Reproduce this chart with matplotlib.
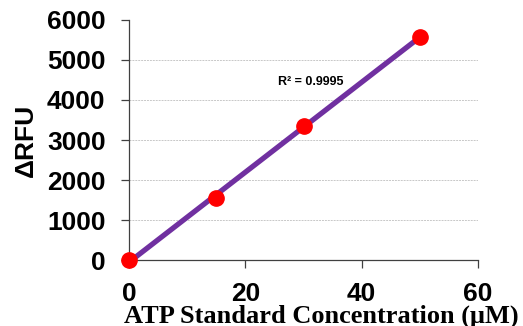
import numpy as np
import matplotlib.pyplot as plt

conc = [0, 15, 30, 50]
rfu = [0, 1550, 3355, 5575]
r2_text = 'R² = 0.9995'

fig = plt.figure(figsize=(5.23, 3.26), dpi=100)
ax = fig.add_axes([0.247, 0.202, 0.667, 0.737])

# linear trendline
slope, icpt = np.polyfit(conc, rfu, 1)
xs = np.array([min(conc), max(conc)])
ax.plot(xs, slope * xs + icpt, color='#7030A0', linewidth=3.8, zorder=2, solid_capstyle='butt')
ax.plot(conc, rfu, 'o', color='#FF0000', markersize=11, zorder=3, clip_on=False)

ax.set_xlim(0, 60); ax.set_ylim(0, 6000)
ax.set_xticks([0, 20, 40, 60]); ax.set_yticks(range(0, 6001, 1000))
for y in range(1000, 6000, 1000):
    ax.axhline(y, color='#c8c8c8', linewidth=0.7, linestyle=(0, (2, 1)), zorder=1)

for s in ['top', 'right']:
    ax.spines[s].set_visible(False)
for s in ['left', 'bottom']:
    ax.spines[s].set_color('#404040'); ax.spines[s].set_linewidth(0.9)
ax.tick_params(direction='out', length=6, width=0.9, color='#404040')
ax.tick_params(axis='x', pad=10); ax.tick_params(axis='y', pad=11)
for lbl in ax.get_xticklabels() + ax.get_yticklabels():
    lbl.set_fontfamily('Liberation Sans'); lbl.set_fontweight('bold'); lbl.set_fontsize(19)

ax.set_ylabel('ΔRFU', fontfamily='Liberation Sans', fontweight='bold', fontsize=19)
ax.yaxis.set_label_coords(-0.262, 0.5)
ax.set_xlabel('ATP Standard Concentration (μM)', fontfamily='Liberation Serif', fontweight='bold',
              fontsize=19)
ax.xaxis.set_label_coords(0.55, -0.183)
ax.text(25.6, 4450, r2_text, fontfamily='Liberation Sans', fontweight='bold', fontsize=9, va='center')

fig.savefig('out.png', dpi=100)
